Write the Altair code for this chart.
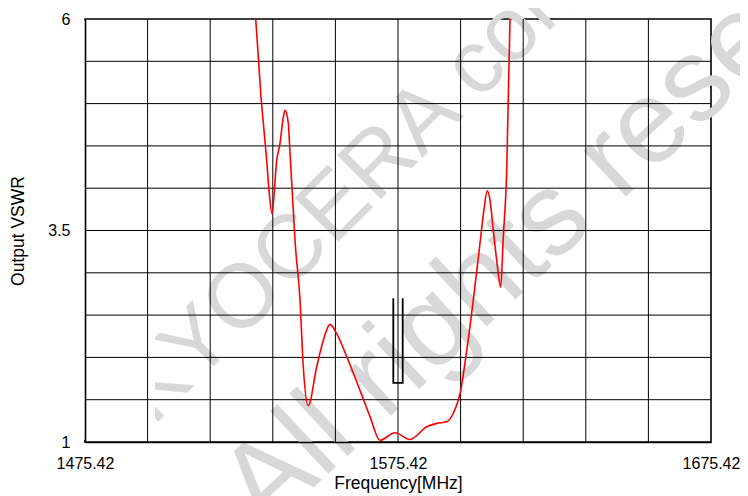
import altair as alt
import pandas as pd

# ---- data ----
freq = [1529.96, 1530.76, 1531.65, 1532.39, 1533.47, 1534.30, 1535.17, 1536.67, 1537.72,
        1538.78, 1539.32, 1540.37, 1540.92, 1541.97, 1542.51, 1544.11, 1545.16, 1546.76,
        1549.44, 1551.55, 1553.70, 1555.84, 1559.03, 1563.28, 1566.47, 1569.67, 1574.46,
        1579.25, 1584.59, 1587.78, 1590.98, 1593.09, 1595.23, 1597.37, 1599.48, 1601.62,
        1602.90, 1603.95, 1604.81, 1605.87, 1606.95, 1608.23, 1609.06, 1610.15, 1611.20]
vswr = [6.00, 5.57, 5.08, 4.77, 4.33, 3.94, 3.70, 4.33, 4.53,
        4.84, 4.92, 4.77, 4.41, 3.74, 3.39, 2.68, 1.89, 1.43,
        1.89, 2.20, 2.39, 2.28, 2.01, 1.61, 1.30, 1.02, 1.11,
        1.03, 1.18, 1.22, 1.24, 1.34, 1.57, 2.08, 2.68, 3.35,
        3.75, 3.97, 3.86, 3.50, 3.15, 2.83, 3.42, 4.20, 6.00]

band_f = [1573.92, 1573.92, 1576.92, 1576.92]
band_v = [2.70, 1.70, 1.70, 2.70]

grid_x = [1495.42, 1515.42, 1535.42, 1555.42, 1575.42, 1595.42, 1615.42, 1635.42, 1655.42]
grid_y = [1.5, 2.0, 2.5, 3.0, 3.5, 4.0, 4.5, 5.0, 5.5]
x_ticks = [1475.42, 1575.42, 1675.42]
y_ticks = [1, 3.5, 6]
x_domain = [1475.42, 1675.42]
y_domain = [1, 6]

wm_text = ["KYOCERA confidential", "All rights reserved"]

FONT = "Liberation Sans"
WM_COLOR = "#d8d8d8"

xscale = alt.Scale(domain=x_domain, nice=False, zero=False)
yscale = alt.Scale(domain=y_domain, nice=False, zero=False)

common = dict(grid=False, ticks=False, domain=True, domainColor="black", domainWidth=1.6,
              labelFlush=False, labelOverlap=False, labelFontSize=16, labelFont=FONT,
              labelColor="black", titleFont=FONT, titleFontSize=17.5,
              titleFontWeight="normal", titleColor="black", zindex=5)
xaxis = alt.Axis(values=x_ticks, format=".2f", title="Frequency[MHz]",
                 labelPadding=13, titlePadding=3, **common)
yaxis = alt.Axis(values=y_ticks, labelExpr="'' + datum.value", title="Output VSWR",
                 labelPadding=15, titlePadding=20, **common)

X = lambda f: alt.X(f, type="quantitative", scale=xscale, axis=xaxis)
Y = lambda f: alt.Y(f, type="quantitative", scale=yscale, axis=yaxis)

one = alt.Data(values=[{}])

# watermark (behind everything)
wm1 = alt.Chart(one).mark_text(angle=315, align="left", baseline="alphabetic",
                               font=FONT, fontSize=90, color=WM_COLOR).encode(
    x=alt.value(68), y=alt.value(408), text=alt.value(wm_text[0]))
wm2 = alt.Chart(one).mark_text(angle=317, align="left", baseline="alphabetic",
                               font=FONT, fontSize=118, color=WM_COLOR).encode(
    x=alt.value(180), y=alt.value(514), text=alt.value(wm_text[1]))
# the watermark image is cut off on its left side
cover = alt.Chart(one).mark_rect(color="white").encode(
    x=alt.value(-90), x2=alt.value(70), y=alt.value(1.5), y2=alt.value(421))

gx = alt.Chart(pd.DataFrame({"g": grid_x})).mark_rule(color="black", strokeWidth=1).encode(x=X("g"))
gy = alt.Chart(pd.DataFrame({"g": grid_y})).mark_rule(color="black", strokeWidth=1).encode(y=Y("g"))

curve = alt.Chart(pd.DataFrame({"f": freq, "v": vswr})).mark_line(
    color="#ff0000", strokeWidth=1.6, interpolate="monotone", clip=True).encode(x=X("f"), y=Y("v"))

band = alt.Chart(pd.DataFrame({"f": band_f, "v": band_v, "i": list(range(len(band_f)))})).mark_line(
    color="black", strokeWidth=1.8).encode(x=X("f"), y=Y("v"), order="i:Q")

chart = alt.layer(wm1, wm2, cover, gx, gy, curve, band).properties(
    width=626, height=423,
    autosize=alt.AutoSizeParams(type="none"),
    padding={"left": 77, "top": 11, "right": 29, "bottom": 54},
).configure_view(stroke="black", strokeWidth=1.6)

chart.save("out.html", embed_options={"renderer": "svg", "actions": False})
